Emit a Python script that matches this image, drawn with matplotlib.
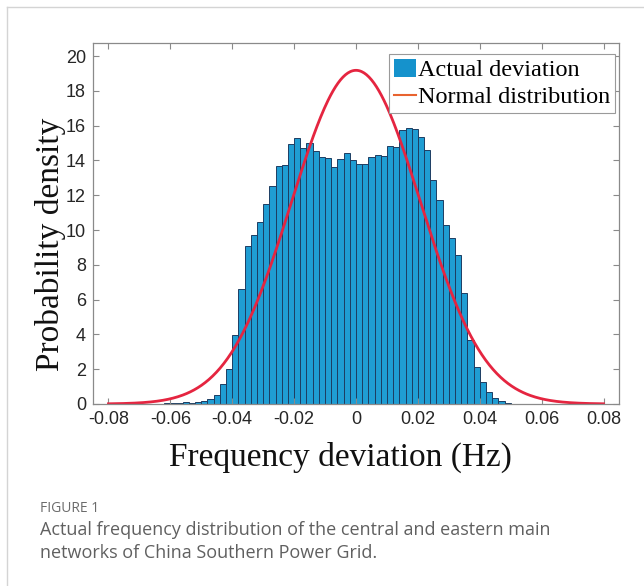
import numpy as np
import matplotlib
matplotlib.use('Agg')
import matplotlib.pyplot as plt
from matplotlib.lines import Line2D
from matplotlib.patches import Patch

# Histogram of the actual frequency deviation (bin width 0.002 Hz)
bin_start = -0.062
bin_width = 0.002
density = [
    0.04, 0.06, 0.07, 0.10, 0.08, 0.10, 0.19, 0.27, 0.50, 1.17,
    2.03, 3.94, 6.61, 9.10, 9.71, 10.48, 11.47, 12.53, 13.68, 13.74,
    14.92, 15.30, 14.69, 15.02, 14.54, 14.21, 14.12, 13.64, 14.07, 14.41,
    14.04, 13.79, 13.77, 14.18, 14.31, 14.27, 14.83, 14.77, 15.75, 15.84,
    15.80, 15.33, 14.60, 12.87, 11.72, 10.29, 9.52, 8.56, 6.36, 3.68,
    2.13, 1.28, 0.71, 0.36, 0.17, 0.07,
]

# fitted normal distribution
mu = 0.0
sigma = 0.0208
curve_range = (-0.08, 0.08)

x_ticks = [-0.08, -0.06, -0.04, -0.02, 0, 0.02, 0.04, 0.06, 0.08]
x_tick_labels = ['-0.08', '-0.06', '-0.04', '-0.02', '0', '0.02', '0.04', '0.06', '0.08']
y_ticks = list(range(0, 21, 2))

bar_color = '#1f9dd3'
edge_color = '#1d3d62'
curve_color = '#e52540'
legend_line_color = '#e8632f'

fig = plt.figure(figsize=(6.44, 5.86), dpi=100)
ax = fig.add_axes([0.1444, 0.3106, 0.8168, 0.616])

edges = np.round(bin_start + bin_width * np.arange(len(density)), 4)
ax.bar(edges, density, width=bin_width, align='edge', color=bar_color,
       edgecolor=edge_color, linewidth=0.7)

xs = np.linspace(curve_range[0], curve_range[1], 400)
pdf = np.exp(-0.5 * ((xs - mu) / sigma) ** 2) / (sigma * np.sqrt(2 * np.pi))
ax.plot(xs, pdf, color=curve_color, linewidth=2.0)

ax.set_xlim(-0.085, 0.085)
ax.set_ylim(0, 20.75)
ax.set_xticks(x_ticks)
ax.set_xticklabels(x_tick_labels)
ax.set_yticks(y_ticks)

for s in ax.spines.values():
    s.set_color('#8a8a8a')
    s.set_linewidth(0.9)
ax.tick_params(direction='in', length=4, width=0.8, color='#8a8a8a',
               top=True, right=True, labelsize=13, labelcolor='#262626', pad=5)
for lbl in ax.get_xticklabels() + ax.get_yticklabels():
    lbl.set_family('Liberation Sans')

ax.set_xlabel('Frequency deviation (Hz)', family='Liberation Serif',
              fontsize=24, color='#111111')
ax.set_ylabel('Probability density', family='Liberation Serif',
              fontsize=24, color='#111111')
ax.xaxis.set_label_coords(0.471, -0.105)
ax.yaxis.set_label_coords(-0.051, 0.443)

handles = [Patch(facecolor='#1592cc', edgecolor='none'),
           Line2D([0], [0], color=legend_line_color, linewidth=1.5)]
leg = ax.legend(handles, ['Actual deviation', 'Normal distribution'],
                loc='upper right', bbox_to_anchor=(0.993, 0.97),
                prop={'family': 'Liberation Serif', 'size': 17.5},
                fancybox=False, framealpha=1, edgecolor='#9a9a9a',
                handlelength=0.9, handleheight=0.75, handletextpad=0.1,
                borderpad=0.2, labelspacing=0.2, borderaxespad=0.0)
leg.get_frame().set_linewidth(0.8)

# outer frame of the figure panel
fig.add_artist(Line2D([7 / 644, 1], [1 - 7 / 586, 1 - 7 / 586],
                      transform=fig.transFigure, color='#d4d4d4', linewidth=1))
fig.add_artist(Line2D([7 / 644, 7 / 644], [0, 1 - 7 / 586],
                      transform=fig.transFigure, color='#d4d4d4', linewidth=1))

fig.text(40 / 644, 1 - 508 / 586, 'FIGURE 1', family='Open Sans', fontsize=10,
         color='#6b6b6b', va='center', ha='left')
fig.text(40 / 644, 1 - 530 / 586,
         'Actual frequency distribution of the central and eastern main',
         family='Open Sans', fontsize=13.0, color='#606060', va='center', ha='left')
fig.text(40 / 644, 1 - 553 / 586, 'networks of China Southern Power Grid.',
         family='Open Sans', fontsize=13.0, color='#606060', va='center', ha='left')

fig.savefig('out.png', dpi=100)
